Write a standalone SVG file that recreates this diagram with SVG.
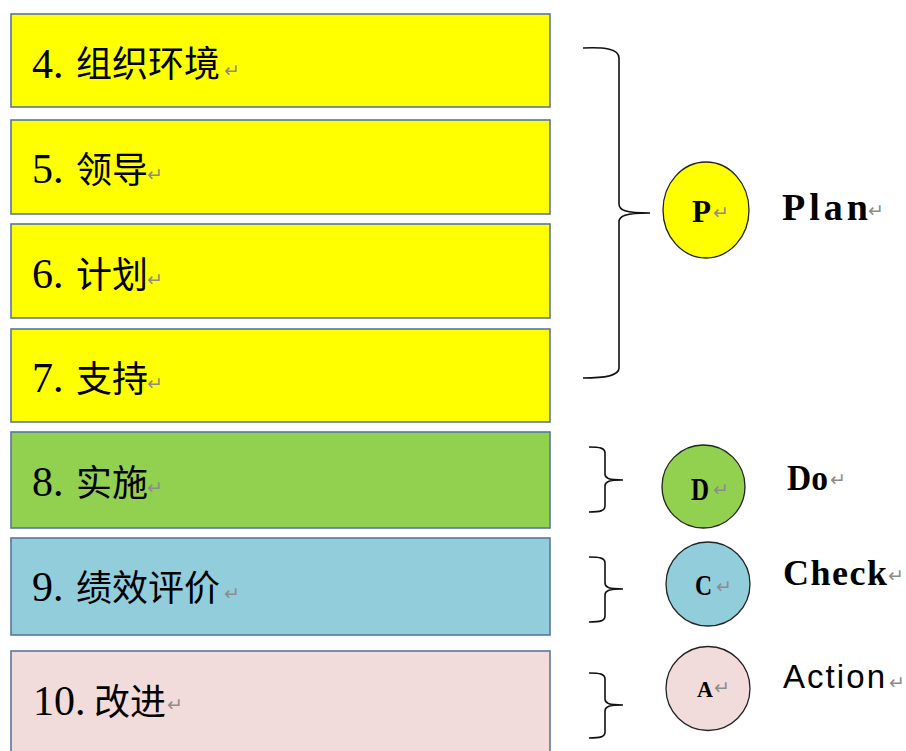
<svg xmlns="http://www.w3.org/2000/svg" width="906" height="751" viewBox="0 0 906 751">
<style>
.box{stroke:#58779F;stroke-width:1.6}
.num{font-family:"Liberation Serif","Noto Sans CJK SC",serif;font-size:42px;fill:#000}
.cjk{font-family:"Noto Sans CJK SC","Liberation Serif",sans-serif;font-size:36px;fill:#000}
.ret{font-family:"DejaVu Sans",sans-serif;font-size:19px;fill:#8C8C8C}
.circ{stroke:#222;stroke-width:1.3}
.cl{font-family:"Liberation Serif",serif;font-weight:bold;fill:#000}
.lbl{font-family:"Liberation Serif",serif;font-weight:bold;fill:#000}
.brace{fill:none;stroke:#111;stroke-width:1.6}
</style>
<rect width="906" height="751" fill="#fff"/>
<g id="box4">
<rect class="box" x="11" y="14" width="539" height="93" fill="#FFFF00"/>
<text class="num" x="32" y="78">4.</text>
<text class="cjk" x="76" y="77">组织环境</text>
<text class="ret" x="224" y="77">↵</text>
</g>
<g id="box5">
<rect class="box" x="11" y="120" width="539" height="94" fill="#FFFF00"/>
<text class="num" x="32" y="183">5.</text>
<text class="cjk" x="76" y="183">领导</text>
<text class="ret" x="147" y="181">↵</text>
</g>
<g id="box6">
<rect class="box" x="11" y="224" width="539" height="94" fill="#FFFF00"/>
<text class="num" x="32" y="288">6.</text>
<text class="cjk" x="76" y="288">计划</text>
<text class="ret" x="147" y="286">↵</text>
</g>
<g id="box7">
<rect class="box" x="11" y="329" width="539" height="93" fill="#FFFF00"/>
<text class="num" x="32" y="392">7.</text>
<text class="cjk" x="76" y="392">支持</text>
<text class="ret" x="147" y="390">↵</text>
</g>
<g id="box8">
<rect class="box" x="11" y="432" width="539" height="96" fill="#92D050"/>
<text class="num" x="32" y="496">8.</text>
<text class="cjk" x="76" y="496">实施</text>
<text class="ret" x="147" y="494">↵</text>
</g>
<g id="box9">
<rect class="box" x="11" y="538" width="539" height="97" fill="#92CDDC"/>
<text class="num" x="32" y="601">9.</text>
<text class="cjk" x="76" y="601">绩效评价</text>
<text class="ret" x="224" y="600">↵</text>
</g>
<g id="box10">
<rect class="box" x="11" y="651" width="539" height="110" fill="#F2DCDB"/>
<text class="num" x="33" y="715">10.</text>
<text class="cjk" x="94" y="715">改进</text>
<text class="ret" x="167" y="711">↵</text>
</g>
<g id="connectors">
<path class="brace" d="M583,48 C605,47 619,49 619,58 L619,204 C619,210 625,213 650,213 M650,213 C625,213 619,216 619,222 L619,368 C619,376 605,378 583,378"/>
<path class="brace" d="M589,447 C600,447 605,448 605,453 L605,474 C605,478 608,480 623,480 M623,480 C608,480 605,482 605,486 L605,506 C605,511 600,512 589,512"/>
<path class="brace" d="M589,557 C600,557 605,558 605,563 L605,583 C605,587 608,589 623,589 M623,589 C608,589 605,591 605,595 L605,616 C605,621 600,622 589,622"/>
<path class="brace" d="M589,673 C600,673 605,674 605,679 L605,699 C605,703 608,705 623,705 M623,705 C608,705 605,707 605,711 L605,732 C605,737 600,738 589,738"/>
</g>
<g id="P">
<ellipse class="circ" cx="706" cy="210" rx="43" ry="48" fill="#FFFF00"/>
<text class="cl" x="692" y="222" font-size="32" textLength="19" lengthAdjust="spacingAndGlyphs">P</text>
<text class="ret" x="713" y="219">↵</text>
</g>
<g id="D">
<circle class="circ" cx="703.5" cy="486.5" r="41.5" fill="#92D050"/>
<text class="cl" x="691" y="500" font-size="32" textLength="18" lengthAdjust="spacingAndGlyphs">D</text>
<text class="ret" x="713" y="496">↵</text>
</g>
<g id="C">
<circle class="circ" cx="708" cy="584" r="42" fill="#92CDDC"/>
<text class="cl" x="695" y="595" font-size="30" textLength="17" lengthAdjust="spacingAndGlyphs">C</text>
<text class="ret" x="716" y="593">↵</text>
</g>
<g id="A">
<circle class="circ" cx="708" cy="688.5" r="42" fill="#F2DCDB"/>
<text class="cl" x="697" y="697" font-size="23" textLength="16" lengthAdjust="spacingAndGlyphs">A</text>
<text class="ret" x="714" y="694">↵</text>
</g>
<g id="labels">
<text class="lbl" x="782" y="220" font-size="38" textLength="86" lengthAdjust="spacing">Plan</text>
<text class="ret" x="868" y="217">↵</text>
<text class="lbl" x="787" y="490" font-size="36" textLength="41" lengthAdjust="spacingAndGlyphs">Do</text>
<text class="ret" x="830" y="486">↵</text>
<text class="lbl" x="783" y="585" font-size="36" textLength="104" lengthAdjust="spacing">Check</text>
<text class="ret" x="888" y="582">↵</text>
<text x="783" y="688" font-family="Liberation Sans, sans-serif" font-size="33" textLength="102" lengthAdjust="spacing" fill="#000">Action</text>
<text class="ret" x="889" y="689">↵</text>
</g>
</svg>
